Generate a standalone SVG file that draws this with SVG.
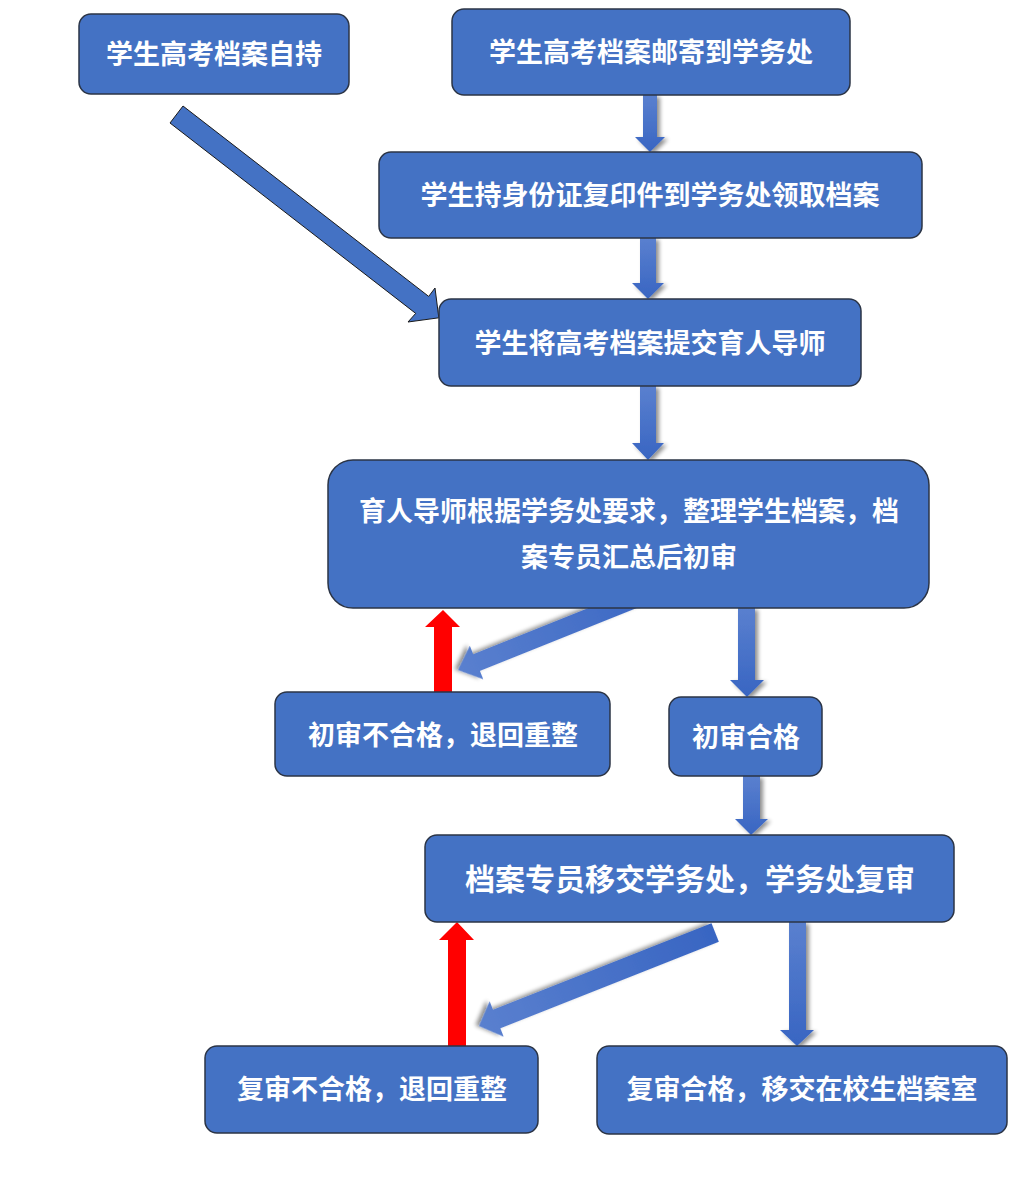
<svg xmlns="http://www.w3.org/2000/svg" width="1020" height="1184" viewBox="0 0 1020 1184">
<style>
.box{fill:#4472c4;stroke:#2b3445;stroke-width:1.5}
.t{fill:#ffffff;font-family:"Noto Sans CJK SC","Noto Sans",sans-serif;font-size:27px;font-weight:bold;text-anchor:middle;dominant-baseline:central}
.ba{fill:url(#g)}
.red{fill:#ff0000}
</style>
<defs>
<linearGradient id="g" x1="0" y1="0" x2="0" y2="1">
<stop offset="0" stop-color="#5a80cf"/>
<stop offset="1" stop-color="#3865c2"/>
</linearGradient>
<linearGradient id="gd" x1="0" y1="0" x2="1" y2="0">
<stop offset="0" stop-color="#3865c2"/>
<stop offset="1" stop-color="#5a80cf"/>
</linearGradient>
<filter id="sh" x="-20%" y="-20%" width="140%" height="140%">
<feGaussianBlur in="SourceAlpha" stdDeviation="2"/>
<feOffset dx="3" dy="2" result="b"/>
<feComponentTransfer><feFuncA type="linear" slope="0.45"/></feComponentTransfer>
<feMerge><feMergeNode/><feMergeNode in="SourceGraphic"/></feMerge>
</filter>
</defs>
<rect width="1020" height="1184" fill="#ffffff"/>
<g id="connectors">
<polygon points="170,123 183,106 428.7,296.4 435,288 438.8,317.8 408,322 415.7,313.4" fill="#4472c4" stroke="#1a1a1a" stroke-width="1"/>
<polygon class="ba" filter="url(#sh)" points="643,95 657,95 657,137 665,137 650,152 635,137 643,137"/>
<polygon class="ba" filter="url(#sh)" points="640,238 656,238 656,283 664,283 648,299 632,283 640,283"/>
<polygon class="ba" filter="url(#sh)" points="640,386 656,386 656,443 664,443 648,460 632,443 640,443"/>
<polygon fill="url(#gd)" filter="url(#sh)" transform="translate(458,670) rotate(158.15)" points="-230,-9 -20,-9 -20,-18 0,0 -20,18 -20,9 -230,9"/>
<polygon class="ba" filter="url(#sh)" points="738,608 755,608 755,680 764,680 747,697 730,680 738,680"/>
<polygon class="ba" filter="url(#sh)" points="743,776 760,776 760,819 768,819 751,835 735,819 743,819"/>
<polygon fill="url(#gd)" filter="url(#sh)" transform="translate(479,1026) rotate(158.4)" points="-254,-10 -19,-10 -19,-19 0,0 -19,19 -19,10 -254,10"/>
<polygon class="ba" filter="url(#sh)" points="789,922 806,922 806,1030 814,1030 797,1046 780,1030 789,1030"/>
<polygon class="red" points="434,692 452,692 452,627 460,627 443,610 425,627 434,627"/>
<polygon class="red" points="448,1046 466,1046 466,940 474,940 457,922 439,940 448,940"/>
</g>
<g id="n1"><rect class="box" x="79" y="14" width="270" height="80" rx="12"/><text class="t" x="214" y="52">学生高考档案自持</text></g>
<g id="n2"><rect class="box" x="452" y="9" width="398" height="86" rx="12"/><text class="t" x="651" y="50">学生高考档案邮寄到学务处</text></g>
<g id="n3"><rect class="box" x="379" y="152" width="543" height="86" rx="12"/><text class="t" x="650" y="193">学生持身份证复印件到学务处领取档案</text></g>
<g id="n4"><rect class="box" x="439" y="299" width="422" height="87" rx="12"/><text class="t" x="650" y="341">学生将高考档案提交育人导师</text></g>
<g id="n5"><rect class="box" x="328" y="460" width="601" height="148" rx="25"/><text class="t" x="629" y="509">育人导师根据学务处要求，整理学生档案，档</text><text class="t" x="629" y="555">案专员汇总后初审</text></g>
<g id="n6"><rect class="box" x="275" y="692" width="335" height="84" rx="12"/><text class="t" x="443" y="733">初审不合格，退回重整</text></g>
<g id="n7"><rect class="box" x="669" y="697" width="153" height="79" rx="12"/><text class="t" x="746" y="735">初审合格</text></g>
<g id="n8"><rect class="box" x="425" y="835" width="529" height="87" rx="12"/><text class="t" x="690" y="877" style="font-size:30px">档案专员移交学务处，学务处复审</text></g>
<g id="n9"><rect class="box" x="205" y="1046" width="333" height="87" rx="12"/><text class="t" x="372" y="1087">复审不合格，退回重整</text></g>
<g id="n10"><rect class="box" x="597" y="1046" width="410" height="88" rx="12"/><text class="t" x="802" y="1087">复审合格，移交在校生档案室</text></g>
</svg>
